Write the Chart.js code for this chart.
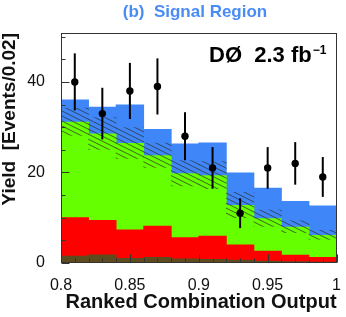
<!DOCTYPE html>
<html>
<head>
<meta charset="utf-8">
<script src="https://cdn.jsdelivr.net/npm/chart.js@4.4.1/dist/chart.umd.min.js"></script>
<style>
  html, body { margin: 0; padding: 0; background: #fff; }
</style>
</head>
<body>
<canvas id="myChart" width="346" height="317"></canvas>
<script>
// bins of 0.02 on the ranked combination output
const binCenters = [0.81, 0.83, 0.85, 0.87, 0.89, 0.91, 0.93, 0.95, 0.97, 0.99];

// stacked contributions, bottom to top
const otherBkg = [1.6, 1.9, 1.1, 1.3, 1.0, 0.9, 0.7, 0.5, 0.4, 0.3];
const redBkg = [8.5, 7.6, 6.3, 6.9, 4.7, 5.1, 3.4, 2.2, 1.4, 1.0];
const greenBkg = [21.1, 19.1, 19.1, 15.6, 14.1, 13.4, 8.7, 7.2, 6.2, 4.9];
const signal = [4.9, 5.9, 8.5, 5.8, 6.6, 7.2, 7.2, 6.7, 5.7, 6.5];

// uncertainty on the total background (hatched)
const bkgUnc = [3.0, 3.5, 3.4, 2.7, 2.8, 3.0, 2.8, 1.8, 1.3, 1.0];

// observed data
const dataCounts = [40, 33, 38, 39, 28, 21, 11, 21, 22, 19];
const dataErr = [6.3, 5.7, 6.2, 6.2, 5.3, 4.6, 3.3, 4.6, 4.7, 4.4];

const xTickLabels = ['0.8', '0.85', '0.9', '0.95', '1'];
const yTickLabels = [0, 20, 40];

const font = '"Liberation Sans", Arial, Helvetica, sans-serif';

// running sums for the stack
let s1 = [], s2 = [], s3 = [], s4 = [];
for (let i = 0; i < binCenters.length; i++) {
    s1.push(otherBkg[i]);
    s2.push(s1[i] + redBkg[i]);
    s3.push(s2[i] + greenBkg[i]);
    s4.push(s3[i] + signal[i]);
}

function pts(arr) {
    return binCenters.map((x, i) => ({ x: x, y: arr[i] }));
}

function makeHatch() {
    const c = document.createElement('canvas');
    c.width = 10; c.height = 5;
    const g = c.getContext('2d');
    g.strokeStyle = 'rgba(50,50,50,0.75)';
    g.lineWidth = 1;
    g.beginPath();
    for (let k = -2; k <= 2; k++) {
        g.moveTo(-10, -5 + k * 5);
        g.lineTo(20, 10 + k * 5);
    }
    g.stroke();
    return g.createPattern(c, 'repeat');
}

function barSet(label, arr, color, order) {
    return {
        type: 'bar',
        label: label,
        data: pts(arr),
        backgroundColor: color,
        borderWidth: 0,
        grouped: false,
        categoryPercentage: 1,
        barPercentage: 1.03,
        order: order
    };
}

// frame, inner ticks, error bars and labels
const decorations = {
    id: 'decorations',
    afterDatasetsDraw(chart) {
        const { ctx, chartArea: a, scales: { x, y } } = chart;
        ctx.save();

        // error bars
        ctx.strokeStyle = '#000';
        ctx.lineWidth = 2;
        for (let i = 0; i < dataCounts.length; i++) {
            const px = x.getPixelForValue(binCenters[i]);
            ctx.beginPath();
            ctx.moveTo(px, y.getPixelForValue(dataCounts[i] - dataErr[i]));
            ctx.lineTo(px, y.getPixelForValue(dataCounts[i] + dataErr[i]));
            ctx.stroke();
        }

        // frame
        ctx.strokeStyle = '#333';
        ctx.lineWidth = 1;
        const L = Math.round(a.left) + 0.5, R = Math.round(a.right) - 0.5;
        const T = Math.round(a.top) + 0.5, B = Math.round(a.bottom) - 0.5;
        ctx.strokeRect(L, T, R - L, B - T);

        // y ticks every 5, long at labelled ones
        ctx.beginPath();
        for (let v = 0; v <= y.max; v += 5) {
            const py = Math.round(y.getPixelForValue(v)) + 0.5;
            const len = yTickLabels.includes(v) ? 8 : 4;
            ctx.moveTo(L, py);
            ctx.lineTo(L + len, py);
        }
        // x ticks every 0.01, long every 0.05
        for (let k = 0; k <= 20; k++) {
            const px = Math.round(x.getPixelForValue(0.8 + k * 0.01)) + 0.5;
            const len = k % 5 === 0 ? 8 : 4;
            ctx.moveTo(px, B);
            ctx.lineTo(px, B - len);
        }
        ctx.stroke();
        ctx.restore();
    },
    afterDraw(chart) {
        const ctx = chart.ctx;
        ctx.save();
        ctx.fillStyle = '#4a8cf5';
        ctx.font = 'bold 17px ' + font;
        ctx.textAlign = 'center';
        ctx.textBaseline = 'alphabetic';
        ctx.fillText('(b)  Signal Region', 195, 17);

        ctx.fillStyle = '#000';
        ctx.font = 'bold 22px ' + font;
        ctx.textAlign = 'left';
        const main = 'D\u00D8  2.3 fb';
        ctx.fillText(main, 209, 62);
        const w = ctx.measureText(main).width;
        ctx.font = 'bold 12px ' + font;
        ctx.fillText('\u22121', 209 + w + 1, 54);
        ctx.restore();
    }
};

const hatch = makeHatch();

const config = {
    type: 'bar',
    data: {
        datasets: [
            {
                type: 'scatter',
                label: 'Data',
                data: pts(dataCounts),
                backgroundColor: '#000',
                borderWidth: 0,
                pointRadius: 3.7,
                order: 1
            },
            {
                type: 'bar',
                label: 'Background uncertainty',
                data: binCenters.map((x, i) => ({ x: x, y: [s3[i] - bkgUnc[i], s3[i] + bkgUnc[i]] })),
                backgroundColor: hatch,
                borderWidth: 0,
                grouped: false,
                categoryPercentage: 1,
                barPercentage: 1,
                order: 2
            },
            barSet('Other', s1, '#5e4b1d', 3),
            barSet('Red', s2, '#ff0000', 4),
            barSet('Green', s3, '#66ff00', 5),
            barSet('Signal', s4, '#3f86f8', 6)
        ]
    },
    options: {
        responsive: false,
        animation: false,
        events: [],
        layout: { padding: { top: 33, right: 6, left: 0, bottom: 0 } },
        plugins: {
            legend: { display: false },
            tooltip: { enabled: false },
            title: { display: false }
        },
        scales: {
            x: {
                type: 'linear',
                min: 0.8,
                max: 1.0,
                offset: false,
                grid: { display: false },
                border: { display: false },
                ticks: {
                    stepSize: 0.05,
                    autoSkip: false,
                    maxRotation: 0,
                    padding: 5,
                    color: '#111',
                    font: { family: font, size: 16 },
                    callback: function (v, i) { return xTickLabels[i]; }
                },
                title: {
                    display: true,
                    text: 'Ranked Combination Output',
                    align: 'end',
                    color: '#111',
                    font: { family: font, size: 20, weight: 'bold', lineHeight: 1 },
                    padding: { top: 0, bottom: 5 }
                },
                afterFit: function (s) { s.height = 54; }
            },
            y: {
                type: 'linear',
                min: 0,
                max: 50.8,
                grid: { display: false },
                border: { display: false },
                ticks: {
                    stepSize: 5,
                    padding: 8,
                    color: '#111',
                    font: { family: font, size: 16 },
                    callback: function (v) { return yTickLabels.includes(v) ? v : ''; }
                },
                title: {
                    display: true,
                    text: 'Yield  [Events/0.02]',
                    align: 'end',
                    color: '#111',
                    font: { family: font, size: 19, weight: 'bold', lineHeight: 1 },
                    padding: { top: 0, bottom: 0 }
                },
                afterFit: function (s) { s.width = 61; }
            }
        }
    },
    plugins: [decorations]
};

const myChart = new Chart(document.getElementById('myChart'), config);
</script>
</body>
</html>
